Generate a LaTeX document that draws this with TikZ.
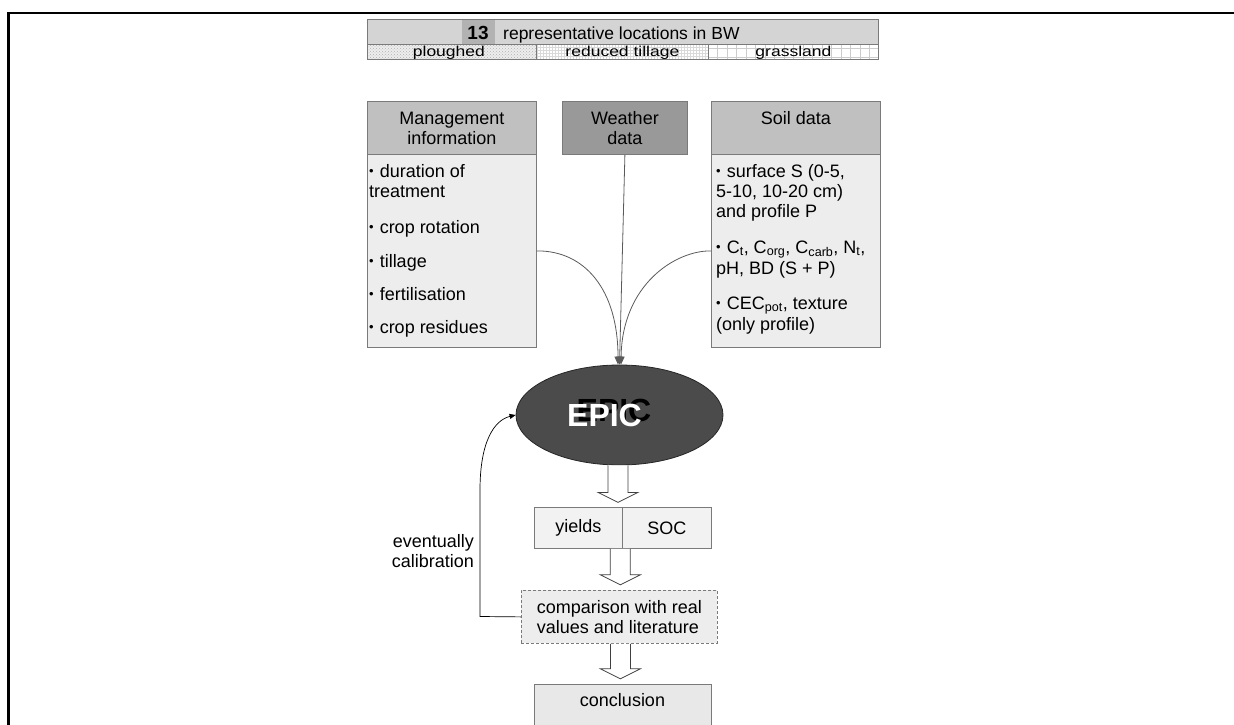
\documentclass[tikz,border=0pt]{standalone}
\usepackage{fontspec}
\setmainfont{Liberation Sans}
\usetikzlibrary{patterns,arrows.meta,shapes.geometric,calc}

\definecolor{boxline}{HTML}{7A7A7A}
\definecolor{hdrgray}{HTML}{C0C0C0}
\definecolor{wxgray}{HTML}{999999}
\definecolor{bodygray}{HTML}{EDEDED}
\definecolor{rowgray}{HTML}{D4D4D4}
\definecolor{numgray}{HTML}{B2B2B2}
\definecolor{epicgray}{HTML}{4B4B4B}
\definecolor{conngray}{HTML}{5A5A5A}

\newcommand\fsbody{\fontsize{18}{20}\selectfont}
\newcommand\fsrow{\fontsize{17.5}{19}\selectfont}
\newcommand\fsepic{\fontsize{32}{34}\selectfont\bfseries}
\newcommand\bul{{\fontsize{13}{13}\selectfont\raisebox{1.2pt}{•}}\hspace{6pt}}
\newcommand\rowtext[1]{\scalebox{1}[0.82]{#1}}

\tikzset{
  box/.style={draw=boxline, line width=0.8pt, anchor=north west, inner sep=0pt, align=center, font=\fsbody},
  hdr/.style={box, fill=hdrgray, minimum width=169pt, minimum height=53pt},
  bodybox/.style={box, fill=bodygray, minimum width=169pt, minimum height=193pt},
  item/.style={anchor=base west, inner sep=0pt, font=\fsbody},
  cell/.style={box, font=\fsbody, minimum height=15pt},
  conn/.style={draw=conngray, line width=0.8pt, -{Triangle[length=8pt,width=7pt]}},
  fbconn/.style={draw=black, line width=0.7pt, -{Triangle[length=6pt,width=5pt]}},
  blockarr/.style={draw=black!75, fill=white, line width=0.8pt, line join=miter},
  epictext/.style={inner sep=0pt, font=\fsepic},
}

\begin{document}
\begin{tikzpicture}[x=1pt,y=-1pt]
\useasboundingbox (0,0) rectangle (1234,725);
\clip (0,0) rectangle (1234,725);

% page frame
\draw[line width=2.2pt] (8.5,740) -- (8.5,13) -- (1250,13);

% ---- title rows ----
\node[box, fill=rowgray, minimum width=511pt, minimum height=25pt] (title) at (367,19) {};
\node[fill=numgray, anchor=north west, inner sep=0pt, minimum width=33pt, minimum height=24pt] (num) at (462,19.5) {};
\node[anchor=base, inner sep=0pt, font=\fontsize{19}{20}\selectfont\bfseries] (numtxt) at (478,40) {13};
\node[anchor=base west, inner sep=0pt, font=\fsrow] (titletxt) at (503,39.5) {representative locations in BW};

\node[cell, minimum width=169pt, preaction={fill=gray!14}, pattern=crosshatch dots, pattern color=gray!60] (plough) at (367,44) {};
\node[cell, minimum width=172pt, pattern=grid, pattern color=gray!30] (redtill) at (536,44) {};
\node[cell, minimum width=170pt, draw=none] (grass) at (708,44) {};
\begin{scope}
  \clip (grass.north west) rectangle (grass.south east);
  \foreach \gx in {0,9.5,...,180} \draw[gray!40, line width=0.6pt] ($(grass.north west)+(\gx,0)$) -- ++(0,16);
  \foreach \gy in {4,13.5} \draw[gray!40, line width=0.6pt] ($(grass.north west)+(0,\gy)$) -- ++(171,0);
\end{scope}
\draw[boxline, line width=0.8pt] (grass.north west) rectangle (grass.south east);
\node[anchor=base, inner sep=0pt, font=\fsrow] (ploughtxt) at ($(plough.south)+(-3,-3.2)$) {\rowtext{ploughed}};
\node[anchor=base, inner sep=0pt, font=\fsrow] (redtilltxt) at ($(redtill.south)+(0,-3.2)$) {\rowtext{reduced tillage}};
\node[anchor=base, inner sep=0pt, font=\fsrow] (grasstxt) at ($(grass.south)+(0,-3.2)$) {\rowtext{grassland}};

% ---- input boxes ----
\node[hdr] (mgmthd) at (367,101) {Management\\information};
\node[bodybox] (mgmt) at (367,154) {};
\node[item] (m1) at (369,177) {\bul duration of};
\node[item] (m2) at (369,197) {treatment};
\node[item] (m3) at (369,233) {\bul crop rotation};
\node[item] (m4) at (369,267) {\bul tillage};
\node[item] (m5) at (369,300) {\bul fertilisation};
\node[item] (m6) at (369,333) {\bul crop residues};

\node[box, fill=wxgray, minimum width=125pt, minimum height=53pt] (weather) at (562,101) {Weather\\data};

\node[hdr] (soilhd) at (711,101) {Soil data\\\mbox{}};
\node[bodybox] (soil) at (711,154) {};
\node[item] (s1) at (716,177) {\bul surface S (0-5,};
\node[item] (s2) at (716,197) {5-10, 10-20 cm)};
\node[item] (s3) at (716,217) {and profile P};
\node[item] (s4) at (716,253) {\bul C\textsubscript{t}, C\textsubscript{org}, C\textsubscript{carb}, N\textsubscript{t},};
\node[item] (s5) at (716,274) {pH, BD (S + P)};
\node[item] (s6) at (716,309) {\bul CEC\textsubscript{pot}, texture};
\node[item] (s7) at (716,330) {(only profile)};

% ---- model ----
\node[ellipse, draw=black!85, line width=0.8pt, fill=epicgray, minimum width=207pt, minimum height=100pt, inner sep=0pt] (epic) at (619.5,415) {};
\node[epictext, text=black, anchor=base] (epicsh) at (614,421) {EPIC};
\node[epictext, text=white, anchor=base] (epiclbl) at (604.5,426) {EPIC};

% converging inputs
\draw[conn] (mgmt.east) .. controls (585,250.5) and (618,290) .. ([xshift=-1.5pt]epic.north);
\draw[conn] (weather.south) -- (epic.north);
\draw[conn] (soil.west) .. controls (675,250.5) and (622,285) .. ([xshift=1.5pt]epic.north);

% ---- outputs ----
\node[box, fill=gray!10, minimum width=88pt, minimum height=41pt] (yld) at (534,507) {yields};
\node[box, fill=gray!10, minimum width=89pt, minimum height=41pt] (soc) at (622,507) {SOC};

\node[box, fill=bodygray, dashed, dash pattern=on 3pt off 2pt, minimum width=196pt, minimum height=53pt, align=left] (cmp) at (521,590) {comparison with real\\values and literature};

\node[box, fill=gray!18, minimum width=177pt, minimum height=60pt] (concl) at (534,684) {};
\node[anchor=base, inner sep=0pt, font=\fsbody] (concltxt) at (622.5,706) {conclusion};

% hollow block arrows
\path[blockarr] ([xshift=-1.5pt]epic.south) ++(-10,0) -- ++(0,27) -- ++(-10,0) -- ++(20,10) -- ++(20,-10) -- ++(-10,0) -- ++(0,-27);
\path[blockarr] ([xshift=-2.5pt]yld.south east) ++(-10,0) -- ++(0,26) -- ++(-10,0) -- ++(20,10) -- ++(20,-10) -- ++(-10,0) -- ++(0,-26);
\path[blockarr] ([xshift=1pt]cmp.south) ++(-10,0) -- ++(0,25) -- ++(-10,0) -- ++(20,10) -- ++(20,-10) -- ++(-10,0) -- ++(0,-25);

% calibration feedback
\coordinate (fb) at (480,616.5);
\draw[fbconn] (cmp.west) -- (fb) -- (480,490) .. controls (480,440) and (495,420) .. (epic.west);
\node[anchor=east, align=right, inner sep=0pt, font=\fsbody] (fblbl) at (474,551) {eventually\\calibration};

\end{tikzpicture}
\end{document}
